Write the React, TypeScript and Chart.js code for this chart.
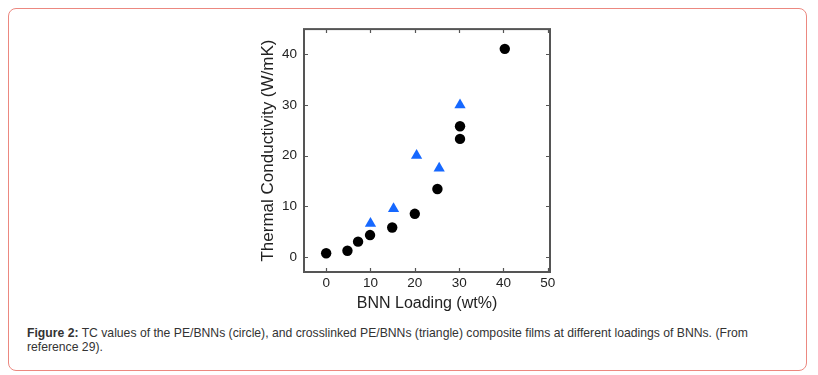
import React, { useEffect, useRef } from "react";
import { Chart, registerables } from "chart.js";

Chart.register(...registerables);

// PE/BNNs (circle)
const peX = [0, 4.8, 7.2, 9.9, 14.9, 20.0, 25.1, 30.2, 30.2, 40.3];
const peY = [0.7, 1.2, 3.0, 4.3, 5.8, 8.5, 13.4, 25.8, 23.3, 41.1];
// crosslinked PE/BNNs (triangle)
const xlX = [10.0, 15.2, 20.4, 25.5, 30.2];
const xlY = [6.6, 9.5, 20.0, 17.5, 30.0];

const xTicks = [0, 10, 20, 30, 40, 50];
const yTicks = [0, 10, 20, 30, 40];

const xTitle = "BNN Loading (wt%)";
const yTitle = "Thermal Conductivity (W/mK)";

const FONT = "'Liberation Sans', Arial, sans-serif";

const framePlugin = {
  id: "frame",
  beforeDatasetsDraw(chart: any) {
    const { ctx, chartArea, scales } = chart;
    const { left, right, top, bottom } = chartArea;
    const x = scales.x;
    const y = scales.y;
    ctx.save();
    ctx.strokeStyle = "#555555";
    ctx.lineWidth = 1.2;
    ctx.beginPath();
    xTicks.forEach((v) => {
      const px = Math.round(x.getPixelForValue(v)) + 0.5;
      ctx.moveTo(px, bottom);
      ctx.lineTo(px, bottom - 4);
      ctx.moveTo(px, top);
      ctx.lineTo(px, top + 4);
    });
    yTicks.forEach((v) => {
      const py = Math.round(y.getPixelForValue(v)) + 0.5;
      ctx.moveTo(left, py);
      ctx.lineTo(left + 4, py);
      ctx.moveTo(right, py);
      ctx.lineTo(right - 4, py);
    });
    ctx.stroke();
    ctx.lineWidth = 2;
    ctx.strokeStyle = "#555555";
    ctx.strokeRect(left, top, right - left, bottom - top);
    ctx.restore();
  },
};

function ScatterChart() {
  const ref = useRef<HTMLCanvasElement | null>(null);
  useEffect(() => {
    if (!ref.current) return;
    const chart = new Chart(ref.current, {
      type: "scatter",
      data: {
        datasets: [
          {
            label: "PE/BNNs",
            data: peX.map((v, i) => ({ x: v, y: peY[i] })),
            pointStyle: "circle",
            pointRadius: 5.2,
            backgroundColor: "#000000",
            borderColor: "#000000",
            borderWidth: 0,
          },
          {
            label: "crosslinked PE/BNNs",
            data: xlX.map((v, i) => ({ x: v, y: xlY[i] })),
            pointStyle: "triangle",
            pointRadius: 6.5,
            backgroundColor: "#1668ff",
            borderColor: "#1668ff",
            borderWidth: 0,
          },
        ],
      },
      options: {
        responsive: false,
        animation: false,
        clip: false as any,
        layout: { padding: { left: 0, right: 30, top: 3, bottom: 0 } },
        plugins: {
          legend: { display: false },
          tooltip: { enabled: false },
        },
        scales: {
          x: {
            type: "linear",
            min: -5,
            max: 50.5,
            grid: { display: false, drawTicks: false },
            border: { display: false },
            afterBuildTicks: (s: any) => {
              s.ticks = xTicks.map((v) => ({ value: v }));
            },
            afterFit: (s: any) => {
              s.height = 48;
            },
            ticks: {
              color: "#222222",
              padding: 3,
              font: { family: FONT, size: 13.5 },
              maxRotation: 0,
              autoSkip: false,
            },
            title: {
              display: true,
              text: xTitle,
              color: "#222222",
              font: { family: FONT, size: 16 },
              padding: { top: 0, bottom: 7 },
            },
          },
          y: {
            type: "linear",
            min: -3,
            max: 45,
            grid: { display: false, drawTicks: false },
            border: { display: false },
            afterBuildTicks: (s: any) => {
              s.ticks = yTicks.map((v) => ({ value: v }));
            },
            afterFit: (s: any) => {
              s.width = 74;
            },
            ticks: {
              color: "#222222",
              padding: 7,
              font: { family: FONT, size: 13.5 },
              autoSkip: false,
            },
            title: {
              display: true,
              text: yTitle,
              color: "#222222",
              font: { family: FONT, size: 17 },
              padding: { top: 28, bottom: 0 },
            },
          },
        },
      },
      plugins: [framePlugin],
    });
    return () => chart.destroy();
  }, []);
  return (
    <canvas
      ref={ref}
      width={350}
      height={306}
      style={{ position: "absolute", left: 221, top: 5, width: 350, height: 306 }}
    />
  );
}

export default function App() {
  return (
    <div
      style={{
        position: "relative",
        width: 799,
        height: 363,
        boxSizing: "border-box",
        border: "1px solid #ec8880",
        borderRadius: 8,
        background: "#ffffff",
      }}
    >
      <ScatterChart />
      <div
        style={{
          position: "absolute",
          left: 18,
          top: 316.7,
          width: 765,
          fontFamily: FONT,
          fontSize: 12.2,
          lineHeight: "14px",
          color: "#333333",
        }}
      >
        <b>Figure 2:</b> TC values of the PE/BNNs (circle), and crosslinked PE/BNNs (triangle) composite films at
        different loadings of BNNs. (From reference 29).
      </div>
    </div>
  );
}
